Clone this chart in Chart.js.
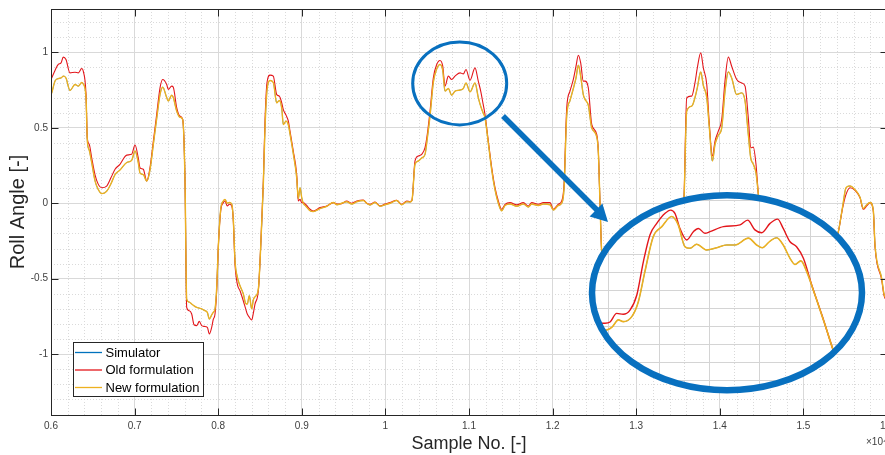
<!DOCTYPE html>
<html><head><meta charset="utf-8">
<script src="https://cdn.jsdelivr.net/npm/chart.js@4.4.1/dist/chart.umd.min.js"></script>
<style>
html,body{margin:0;padding:0;background:#fff;overflow:hidden;width:885px;height:455px;}
#main{position:absolute;left:0;top:0;width:900px;height:455px;}
#inset{position:absolute;left:592px;top:195px;width:270px;height:196px;background:#fff;clip-path:ellipse(135px 97.8px at 135px 97.8px);}
#anno{position:absolute;left:0;top:0;pointer-events:none;}
</style></head><body>
<canvas id="main" width="900" height="455"></canvas>
<canvas id="inset" width="270" height="196"></canvas>
<svg id="anno" width="885" height="455">
<ellipse cx="459.7" cy="83.4" rx="47" ry="41.5" fill="none" stroke="#0870BF" stroke-width="3"/>
<line x1="503" y1="116" x2="598" y2="211" stroke="#0870BF" stroke-width="5.5"/>
<polygon points="608,222 589.6,216.4 602.4,203.6" fill="#0870BF"/>
<ellipse cx="727" cy="292.8" rx="135" ry="97.5" fill="none" stroke="#0870BF" stroke-width="6.5"/>
</svg>
<script>
const FONT = '"Liberation Sans", Arial, Helvetica, sans-serif';

// ---- main plot data (sample number, roll angle) ----
const sampleNo = [6000,6008,6048,6087,6120,6147,6179,6227,6287,6327,
6367,6386,6419,6434,6458,6487,6526,6562,6606,6666,
6718,6766,6825,6906,6965,7005,7044,7065,7104,7145,
7184,7224,7264,7304,7336,7384,7403,7444,7463,7504,
7543,7575,7603,7623,7654,7683,7711,7743,7774,7803,
7834,7870,7894,7922,7941,7962,7982,8001,8030,8061,
8081,8109,8133,8162,8181,8201,8229,8261,8300,8329,
8348,8372,8401,8420,8440,8480,8508,8540,8560,8584,
8620,8659,8700,8731,8760,8779,8811,8839,8859,8898,
8939,8958,8979,8999,9018,9050,9098,9138,9218,9298,
9377,9421,9477,9537,9597,9657,9736,9776,9816,9876,
9936,9995,10055,10135,10195,10255,10294,10318,10354,10394,
10434,10474,10501,10534,10573,10614,10653,10686,10713,10753,
10793,10833,10893,10932,10964,11012,11072,11111,11140,11168,
11191,11231,11272,11311,11351,11391,11431,11491,11571,11650,
11710,11750,11829,11889,11969,12009,12068,12109,12137,12169,
12208,12248,12280,12308,12336,12367,12388,12427,12468,12528,
12547,12567,12585,12627,12711,12866,13046,13225,13404,13524,
13572,13604,13664,13703,13731,13772,13803,13844,13875,13911,
13943,13982,14023,14062,14102,14142,14202,14262,14302,14341,
14370,14401,14433,14461,14505,14600,14780,14959,15139,15318,
15414,15470,15510,15557,15617,15677,15716,15757,15797,15836,
15857,15937,15964,16000];

const oldRoll = [0.82,0.83,0.88,0.92,0.93,0.968,0.952,0.864,0.868,0.864,
0.893,0.875,0.72,0.434,0.39,0.30,0.19,0.13,0.103,0.114,
0.17,0.225,0.258,0.319,0.324,0.386,0.30,0.235,0.225,0.147,
0.235,0.41,0.588,0.765,0.82,0.787,0.754,0.776,0.769,0.632,
0.577,0.555,0.147,-0.69,-0.712,-0.734,-0.805,-0.811,-0.783,-0.811,
-0.816,-0.822,-0.866,-0.822,-0.77,-0.734,-0.58,-0.294,-0.05,0.004,
0.015,-0.018,-0.007,-0.018,-0.117,-0.403,-0.536,-0.58,-0.646,-0.70,
-0.734,-0.755,-0.774,-0.73,-0.668,-0.58,-0.294,0.147,0.55,0.80,
0.849,0.842,0.72,0.71,0.665,0.62,0.584,0.544,0.478,0.346,
0.19,0.015,0.026,0.004,0.004,-0.01,-0.04,-0.051,-0.029,-0.018,
0.004,-0.005,-0.003,0.015,0.0,0.015,0.022,0.0,-0.007,0.008,
-0.018,-0.005,0.004,0.02,-0.007,0.015,0.011,0.02,0.28,0.313,
0.324,0.368,0.456,0.61,0.83,0.919,0.946,0.908,0.776,0.842,
0.82,0.842,0.864,0.857,0.886,0.815,0.897,0.809,0.743,0.66,
0.589,0.412,0.235,0.103,0.015,-0.04,-0.007,0.004,-0.011,0.004,
-0.018,0.004,-0.007,0.004,0.004,-0.04,-0.007,0.015,0.126,0.632,
0.743,0.82,0.908,0.981,0.93,0.809,0.809,0.765,0.522,0.456,
0.346,0.0,-0.3,-0.55,-0.75,-0.78,-0.76,-0.70,-0.5,-0.3,
0.037,0.698,0.71,0.797,0.897,0.996,0.897,0.787,0.522,0.313,
0.412,0.478,0.555,0.809,0.968,0.908,0.82,0.797,0.776,0.566,
0.368,0.372,0.258,0.059,-0.2,-0.45,-0.6,-0.62,-0.55,-0.35,
-0.2,-0.029,0.059,0.103,0.086,0.037,-0.04,-0.018,0.004,-0.051,
-0.29,-0.51,-0.61,-0.65];

const newRoll = [0.72,0.73,0.81,0.826,0.83,0.842,0.83,0.747,0.787,0.776,
0.80,0.79,0.70,0.42,0.35,0.27,0.15,0.095,0.064,0.08,
0.13,0.19,0.22,0.27,0.284,0.346,0.27,0.20,0.19,0.147,
0.22,0.39,0.56,0.72,0.769,0.70,0.677,0.716,0.70,0.61,
0.57,0.555,0.147,-0.635,-0.655,-0.668,-0.68,-0.69,-0.695,-0.70,
-0.71,-0.723,-0.767,-0.74,-0.723,-0.70,-0.56,-0.294,-0.04,0.015,
0.025,0.0,0.005,-0.005,-0.11,-0.38,-0.49,-0.547,-0.60,-0.664,
-0.668,-0.613,-0.70,-0.64,-0.62,-0.57,-0.294,0.13,0.50,0.75,
0.813,0.80,0.665,0.681,0.63,0.522,0.544,0.52,0.46,0.33,
0.17,0.03,0.103,0.037,0.0,-0.02,-0.05,-0.055,-0.035,-0.02,
0.005,-0.01,0.0,0.01,-0.005,0.01,0.018,0.0,-0.012,0.005,
-0.02,-0.01,0.0,0.018,-0.01,0.01,0.008,0.02,0.258,0.28,
0.30,0.324,0.43,0.58,0.80,0.89,0.919,0.88,0.743,0.76,
0.716,0.743,0.75,0.76,0.797,0.738,0.797,0.70,0.643,0.60,
0.567,0.40,0.22,0.09,0.0,-0.05,-0.015,-0.005,-0.02,-0.005,
-0.025,-0.005,-0.015,-0.005,-0.01,-0.045,-0.015,0.0,0.10,0.58,
0.68,0.76,0.83,0.915,0.84,0.72,0.688,0.65,0.50,0.44,
0.34,0.0,-0.3,-0.52,-0.70,-0.74,-0.72,-0.68,-0.5,-0.3,
0.03,0.61,0.643,0.70,0.765,0.87,0.78,0.70,0.50,0.28,
0.39,0.45,0.50,0.74,0.87,0.83,0.72,0.731,0.677,0.456,
0.30,0.258,0.20,0.06,-0.2,-0.45,-0.6,-0.6,-0.55,-0.35,
-0.2,-0.02,0.103,0.114,0.09,0.04,-0.035,-0.01,0.005,-0.045,
-0.28,-0.50,-0.60,-0.64];

// the simulator trace lies underneath the new formulation everywhere
const simulatorRoll = newRoll.slice();

const xTicks = [6000,7000,8000,9000,10000,11000,12000,13000,14000,15000,16000];
const yTicks = [-1,-0.5,0,0.5,1];
const seriesLabels = ['Simulator','Old formulation','New formulation'];
const seriesColors = ['#0072BD','#E3161B','#EDB120'];

// ---- zoomed inset data ----
const insetOldSample = [10336,10368,10388,10408,10434,10460,10487,10514,10540,10566,10593,10626,10648,10665,10685,10712,10738,10758,10784,10804,10857,10923,10953,10982,11009,11042,11072,11094,11121,11147,11174,11207,11247,11292,11339];
const insetOldRoll = [0.650,0.6575,0.6575,0.661,0.685,0.6825,0.694,0.736,0.829,0.903,0.935,0.963,0.972,0.963,0.921,0.889,0.912,0.921,0.9075,0.912,0.926,0.931,0.944,0.917,0.909,0.935,0.947,0.921,0.884,0.870,0.838,0.764,0.681,0.583,0.494];
const insetNewSample = [10336,10368,10395,10416,10441,10460,10494,10520,10546,10579,10613,10652,10678,10705,10725,10751,10791,10831,10870,10903,10956,10989,11011,11042,11068,11094,11121,11141,11164,11187,11220,11260,11292,11339];
const insetNewRoll = [0.631,0.636,0.639,0.647,0.667,0.662,0.676,0.7175,0.801,0.898,0.926,0.954,0.931,0.870,0.866,0.877,0.861,0.8675,0.875,0.875,0.894,0.875,0.8675,0.886,0.895,0.875,0.838,0.821,0.831,0.801,0.736,0.653,0.583,0.494];
const insetSimRoll = insetNewRoll.slice();

const pts = (xs, ys) => xs.map((x, i) => ({x, y: ys[i]}));

// minor dotted grid + frame + legend
const minorGrid = {id:'minorGrid', beforeDatasetsDraw(chart){
  const {ctx, chartArea:a, scales:{x, y}} = chart;
  ctx.save(); ctx.strokeStyle = '#dadada'; ctx.lineWidth = 1; ctx.setLineDash([1,2]);
  ctx.beginPath();
  for (let v = 6200; v < 16000; v += 200) { if (v % 1000 === 0) continue;
    const p = Math.round(x.getPixelForValue(v)) + 0.5; ctx.moveTo(p, a.top); ctx.lineTo(p, a.bottom); }
  for (let k = -14; k <= 12; k++) { if (k % 5 === 0) continue;
    const p = Math.round(y.getPixelForValue(k / 10)) + 0.5; ctx.moveTo(a.left, p); ctx.lineTo(a.right, p); }
  ctx.stroke(); ctx.restore();
}};
const frame = {id:'frame', afterDatasetsDraw(chart){
  const {ctx, chartArea:a, scales:{x, y}} = chart;
  ctx.save(); ctx.strokeStyle = '#262626'; ctx.lineWidth = 1;
  const L = Math.round(a.left) + 0.5, R = Math.round(a.right) + 0.5, T = Math.round(a.top) + 0.5, B = Math.round(a.bottom) + 0.5;
  ctx.strokeRect(L, T, R - L, B - T);
  ctx.beginPath();
  xTicks.forEach(v => { const p = Math.round(x.getPixelForValue(v)) + 0.5;
    ctx.moveTo(p, B); ctx.lineTo(p, B - 7); ctx.moveTo(p, T); ctx.lineTo(p, T + 7); });
  yTicks.forEach(v => { const p = Math.round(y.getPixelForValue(v)) + 0.5;
    ctx.moveTo(L, p); ctx.lineTo(L + 7, p); ctx.moveTo(R, p); ctx.lineTo(R - 7, p); });
  ctx.stroke();
  ctx.fillStyle = '#404040'; ctx.font = '10px ' + FONT; ctx.textAlign = 'left'; ctx.textBaseline = 'alphabetic';
  ctx.fillText('\u00d710\u2074', a.right - 21, 445);
  ctx.restore();
}};
const legendBox = {id:'legendBox', afterDraw(chart){
  const ctx = chart.ctx; const x0 = 73, y0 = 342, w = 130, h = 54;
  ctx.save(); ctx.fillStyle = '#fff'; ctx.fillRect(x0, y0, w, h);
  ctx.strokeStyle = '#262626'; ctx.lineWidth = 1; ctx.strokeRect(x0 + 0.5, y0 + 0.5, w, h);
  const rows = [352.5, 370, 387.5];
  chart.data.datasets.forEach((ds, i) => {
    const yy = rows[i];
    ctx.strokeStyle = ds.borderColor; ctx.lineWidth = 1.3; ctx.beginPath(); ctx.moveTo(75, yy); ctx.lineTo(102, yy); ctx.stroke();
    ctx.fillStyle = '#000'; ctx.font = '13px ' + FONT; ctx.textAlign = 'left'; ctx.textBaseline = 'middle';
    ctx.fillText(ds.label, 105.5, yy + 0.5);
  });
  ctx.restore();
}};

new Chart(document.getElementById('main'), {
  type: 'line',
  data: { datasets: [
    {label: seriesLabels[0], data: pts(sampleNo, simulatorRoll), borderColor: seriesColors[0], borderWidth: 0.7, order: 3},
    {label: seriesLabels[1], data: pts(sampleNo, oldRoll), borderColor: seriesColors[1], borderWidth: 1.1, order: 2},
    {label: seriesLabels[2], data: pts(sampleNo, newRoll), borderColor: seriesColors[2], borderWidth: 1.4, order: 1}
  ]},
  options: {
    responsive: false, animation: false, devicePixelRatio: 1,
    layout: {padding: {left: 0, top: 8, right: 13, bottom: 0}},
    elements: {point: {radius: 0}, line: {borderWidth: 1.2, cubicInterpolationMode: 'monotone', fill: false}},
    plugins: {legend: {display: false}, tooltip: {enabled: false}},
    scales: {
      x: {type: 'linear', min: 6000, max: 16000,
        afterFit(s) { s.height = 40; },
        afterBuildTicks(s) { s.ticks = xTicks.map(v => ({value: v})); },
        ticks: {autoSkip: false, maxRotation: 0, padding: 5, color: '#404040', font: {family: FONT, size: 10},
          callback: v => String(Math.round(v / 1000) / 10)},
        grid: {color: '#d9d9d9', lineWidth: 1, drawTicks: false},
        border: {display: false},
        title: {display: true, text: 'Sample No. [-]', color: '#262626', font: {family: FONT, size: 18}, padding: {top: 0, bottom: 0}}
      },
      y: {type: 'linear', min: -1.403, max: 1.287,
        afterFit(s) { s.width = 51; },
        afterBuildTicks(s) { s.ticks = yTicks.map(v => ({value: v})); },
        ticks: {padding: 3, color: '#404040', font: {family: FONT, size: 10}, callback: v => String(v)},
        grid: {color: '#d9d9d9', lineWidth: 1, drawTicks: false},
        border: {display: false},
        title: {display: true, text: 'Roll Angle [-]', color: '#262626', font: {family: FONT, size: 20}, padding: {top: 6, bottom: 0}}
      }
    }
  },
  plugins: [minorGrid, frame, legendBox]
});

const insetGrid = {id:'insetGrid', beforeDatasetsDraw(chart){
  const {ctx, chartArea:a, scales:{x, y}} = chart;
  ctx.save(); ctx.lineWidth = 1;
  ctx.strokeStyle = '#d4d4d4'; ctx.beginPath();
  for (let v = 10400; v <= 11400; v += 200) { const p = Math.round(x.getPixelForValue(v)) + 0.5; ctx.moveTo(p, a.top); ctx.lineTo(p, a.bottom); }
  for (let k = 10; k <= 20; k++) { const p = Math.round(y.getPixelForValue(k * 0.05)) + 0.5; ctx.moveTo(a.left, p); ctx.lineTo(a.right, p); }
  ctx.stroke();
  ctx.setLineDash([1,2]); ctx.strokeStyle = '#d8d8d8'; ctx.beginPath();
  for (let v = 10500; v <= 11300; v += 200) { const p = Math.round(x.getPixelForValue(v)) + 0.5; ctx.moveTo(p, a.top); ctx.lineTo(p, a.bottom); }
  ctx.stroke(); ctx.restore();
}};

new Chart(document.getElementById('inset'), {
  type: 'line',
  data: { datasets: [
    {label: seriesLabels[0], data: pts(insetNewSample, insetSimRoll), borderColor: seriesColors[0], borderWidth: 0.8, order: 3},
    {label: seriesLabels[1], data: pts(insetOldSample, insetOldRoll), borderColor: seriesColors[1], borderWidth: 1.4, order: 2},
    {label: seriesLabels[2], data: pts(insetNewSample, insetNewRoll), borderColor: seriesColors[2], borderWidth: 1.6, order: 1}
  ]},
  options: {
    responsive: false, animation: false, devicePixelRatio: 1,
    layout: {padding: 0},
    elements: {point: {radius: 0}, line: {borderWidth: 1.5, cubicInterpolationMode: 'monotone', fill: false}},
    plugins: {legend: {display: false}, tooltip: {enabled: false}},
    scales: {
      x: {type: 'linear', display: false, min: 10336.4, max: 11406.2},
      y: {type: 'linear', display: false, min: 0.4694, max: 1.0139}
    }
  },
  plugins: [insetGrid]
});
</script>
</body></html>
